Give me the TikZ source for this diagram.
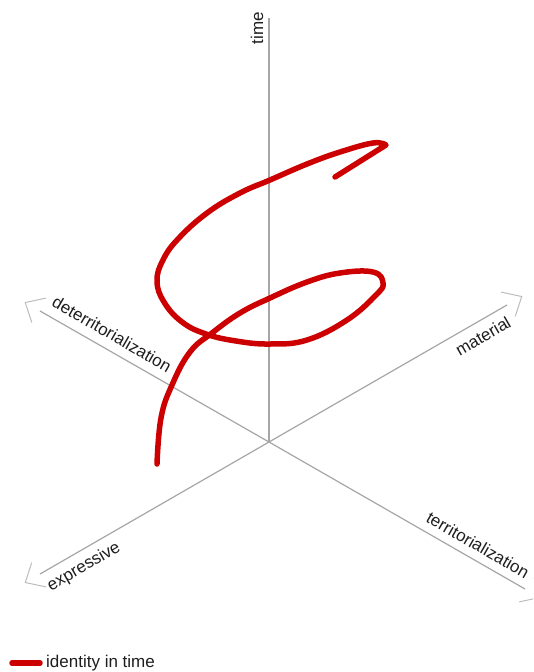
\documentclass[tikz,border=0pt]{standalone}
\usepackage{fontspec}
\setmainfont{Liberation Sans}
\usetikzlibrary{calc}
\definecolor{axisgrey}{HTML}{A6A6A6}
\definecolor{tipgrey}{HTML}{BCBCBC}
\definecolor{trailred}{HTML}{CC0000}
\definecolor{ink}{HTML}{1E1E1E}

\begin{document}
\begin{tikzpicture}[x=1pt,y=-1pt,
    axis/.style={axisgrey,line width=1.2pt},
    barb/.style={tipgrey,line width=1pt},
    lbl/.style={text=ink,font=\fontsize{17}{20}\selectfont,inner sep=0pt},
    trail/.style={trailred,line width=5.5pt,line cap=round,line join=round}]
  \useasboundingbox (0,0) rectangle (533,672);
  \clip (0,0) rectangle (533,672);
  \coordinate (O) at (269,442);
  \coordinate (time) at (269,18);
  \coordinate (det) at (40,311);
  \coordinate (ter) at (525,589);
  \coordinate (mat) at (507,305);
  \coordinate (exp) at (40,574);
  \foreach \e in {time,det,ter,mat,exp}
    \draw[axis] (O) -- (\e);
  % open chevrons, set off a little beyond the flat axes
  \foreach \e in {det,ter,mat,exp}{
    \coordinate (t-\e) at ($(\e)!-17pt!(O)$);
    \draw[barb] ($(t-\e)!21pt!42:(\e)$) -- (t-\e) -- ($(t-\e)!21pt!-42:(\e)$);}
  \node[lbl,rotate=90] (l-time) at (257,28) {time};
  \node[lbl,rotate=-30] (l-det) at (112,334) {deterritorialization};
  \node[lbl,rotate=-30] (l-ter) at (478,545) {territorialization};
  \node[lbl,rotate=30] (l-mat) at (483,336) {material};
  \node[lbl,rotate=30] (l-exp) at (84,567) {expressive};
  % the trail
  \draw[trail] plot[smooth,tension=0.7] coordinates {(157,464) (161,418) (172,385) (190,352) (212,333) (240,313) (270,298) (307,282) (340,273) (373,272) (383,283) (376,295) (347,320) (307,340) (270,344) (236,341) (206,334) (182,322) (164,302) (157,281) (163,260) (178,239) (207,213) (240,193) (270,180) (307,164) (340,152) (373,143) (386,145)} -- (335,177);
  % key
  \coordinate (k0) at (12,663);
  \coordinate (k1) at (40,663);
  \draw[trail] (k0) -- (k1);
  \node[lbl,anchor=west] (key) at (46,663) {identity in time};
\end{tikzpicture}
\end{document}
